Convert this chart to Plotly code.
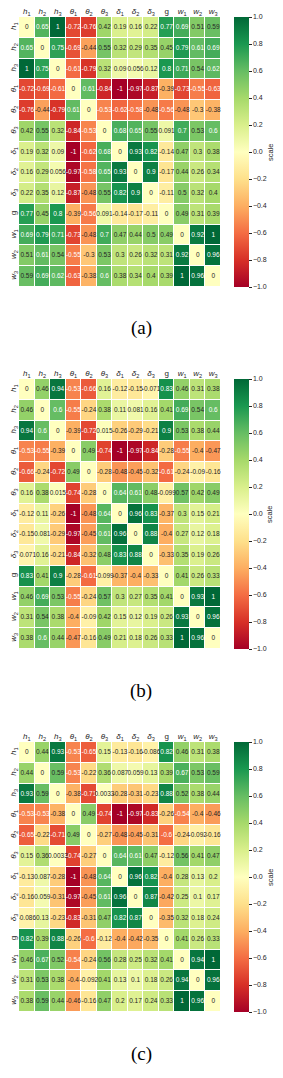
import plotly.graph_objects as go

labels = ["<i>h</i><sub>1</sub>", "<i>h</i><sub>2</sub>", "<i>h</i><sub>3</sub>",
          "<i>θ</i><sub>1</sub>", "<i>θ</i><sub>2</sub>", "<i>θ</i><sub>3</sub>",
          "<i>δ</i><sub>1</sub>", "<i>δ</i><sub>2</sub>", "<i>δ</i><sub>3</sub>",
          "g", "<i>w</i><sub>1</sub>", "<i>w</i><sub>2</sub>", "<i>w</i><sub>3</sub>"]

corr_a = [
    [0, 0.65, 1, -0.72, -0.76, 0.42, 0.19, 0.16, 0.22, 0.77, 0.69, 0.51, 0.59],
    [0.65, 0, 0.75, -0.69, -0.44, 0.55, 0.32, 0.29, 0.35, 0.45, 0.79, 0.61, 0.69],
    [1, 0.75, 0, -0.61, -0.79, 0.32, 0.09, 0.056, 0.12, 0.8, 0.71, 0.54, 0.62],
    [-0.72, -0.69, -0.61, 0, 0.61, -0.84, -1, -0.97, -0.87, -0.39, -0.73, -0.55, -0.63],
    [-0.76, -0.44, -0.79, 0.61, 0, -0.53, -0.62, -0.58, -0.48, -0.56, -0.48, -0.3, -0.38],
    [0.42, 0.55, 0.32, -0.84, -0.53, 0, 0.68, 0.65, 0.55, 0.091, 0.7, 0.53, 0.6],
    [0.19, 0.32, 0.09, -1, -0.62, 0.68, 0, 0.93, 0.82, -0.14, 0.47, 0.3, 0.38],
    [0.16, 0.29, 0.056, -0.97, -0.58, 0.65, 0.93, 0, 0.9, -0.17, 0.44, 0.26, 0.34],
    [0.22, 0.35, 0.12, -0.87, -0.48, 0.55, 0.82, 0.9, 0, -0.11, 0.5, 0.32, 0.4],
    [0.77, 0.45, 0.8, -0.39, -0.56, 0.091, -0.14, -0.17, -0.11, 0, 0.49, 0.31, 0.39],
    [0.69, 0.79, 0.71, -0.73, -0.48, 0.7, 0.47, 0.44, 0.5, 0.49, 0, 0.92, 1],
    [0.51, 0.61, 0.54, -0.55, -0.3, 0.53, 0.3, 0.26, 0.32, 0.31, 0.92, 0, 0.96],
    [0.59, 0.69, 0.62, -0.63, -0.38, 0.6, 0.38, 0.34, 0.4, 0.39, 1, 0.96, 0],
]

corr_b = [
    [0, 0.46, 0.94, -0.53, -0.66, 0.16, -0.12, -0.15, -0.071, 0.83, 0.46, 0.31, 0.38],
    [0.46, 0, 0.6, -0.55, -0.24, 0.38, 0.11, 0.081, 0.16, 0.41, 0.69, 0.54, 0.6],
    [0.94, 0.6, 0, -0.39, -0.72, 0.015, -0.26, -0.29, -0.21, 0.9, 0.53, 0.38, 0.44],
    [-0.53, -0.55, -0.39, 0, 0.49, -0.74, -1, -0.97, -0.84, -0.28, -0.55, -0.4, -0.47],
    [-0.66, -0.24, -0.72, 0.49, 0, -0.28, -0.48, -0.45, -0.32, -0.61, -0.24, -0.09, -0.16],
    [0.16, 0.38, 0.015, -0.74, -0.28, 0, 0.64, 0.61, 0.48, -0.099, 0.57, 0.42, 0.49],
    [-0.12, 0.11, -0.26, -1, -0.48, 0.64, 0, 0.96, 0.83, -0.37, 0.3, 0.15, 0.21],
    [-0.15, 0.081, -0.29, -0.97, -0.45, 0.61, 0.96, 0, 0.88, -0.4, 0.27, 0.12, 0.18],
    [-0.071, 0.16, -0.21, -0.84, -0.32, 0.48, 0.83, 0.88, 0, -0.33, 0.35, 0.19, 0.26],
    [0.83, 0.41, 0.9, -0.28, -0.61, -0.099, -0.37, -0.4, -0.33, 0, 0.41, 0.26, 0.33],
    [0.46, 0.69, 0.53, -0.55, -0.24, 0.57, 0.3, 0.27, 0.35, 0.41, 0, 0.93, 1],
    [0.31, 0.54, 0.38, -0.4, -0.09, 0.42, 0.15, 0.12, 0.19, 0.26, 0.93, 0, 0.96],
    [0.38, 0.6, 0.44, -0.47, -0.16, 0.49, 0.21, 0.18, 0.26, 0.33, 1, 0.96, 0],
]

corr_c = [
    [0, 0.44, 0.93, -0.53, -0.65, 0.15, -0.13, -0.16, -0.086, 0.82, 0.46, 0.31, 0.38],
    [0.44, 0, 0.59, -0.53, -0.22, 0.36, 0.087, 0.059, 0.13, 0.39, 0.67, 0.53, 0.59],
    [0.93, 0.59, 0, -0.38, -0.71, 0.0033, -0.28, -0.31, -0.23, 0.88, 0.52, 0.38, 0.44],
    [-0.53, -0.53, -0.38, 0, 0.49, -0.74, -1, -0.97, -0.83, -0.26, -0.54, -0.4, -0.46],
    [-0.65, -0.22, -0.71, 0.49, 0, -0.27, -0.48, -0.45, -0.31, -0.6, -0.24, -0.092, -0.16],
    [0.15, 0.36, 0.0033, -0.74, -0.27, 0, 0.64, 0.61, 0.47, -0.12, 0.56, 0.41, 0.47],
    [-0.13, 0.087, -0.28, -1, -0.48, 0.64, 0, 0.96, 0.82, -0.4, 0.28, 0.13, 0.2],
    [-0.16, 0.059, -0.31, -0.97, -0.45, 0.61, 0.96, 0, 0.87, -0.42, 0.25, 0.1, 0.17],
    [-0.086, 0.13, -0.23, -0.83, -0.31, 0.47, 0.82, 0.87, 0, -0.35, 0.32, 0.18, 0.24],
    [0.82, 0.39, 0.88, -0.26, -0.6, -0.12, -0.4, -0.42, -0.35, 0, 0.41, 0.26, 0.33],
    [0.46, 0.67, 0.52, -0.54, -0.24, 0.56, 0.28, 0.25, 0.32, 0.41, 0, 0.94, 1],
    [0.31, 0.53, 0.38, -0.4, -0.092, 0.41, 0.13, 0.1, 0.18, 0.26, 0.94, 0, 0.96],
    [0.38, 0.59, 0.44, -0.46, -0.16, 0.47, 0.2, 0.17, 0.24, 0.33, 1, 0.96, 0],
]

panel_labels = ["(a)", "(b)", "(c)"]
cbar_title = "scale"
cbar_ticks = [-1.0, -0.8, -0.6, -0.4, -0.2, 0.0, 0.2, 0.4, 0.6, 0.8, 1.0]

cmap_hex = ["#a50026", "#d73027", "#f46d43", "#fdae61", "#fee08b", "#ffffbf",
            "#d9ef8b", "#a6d96a", "#66bd63", "#1a9850", "#006837"]
colorscale = [[i / 10, c] for i, c in enumerate(cmap_hex)]


def hex2rgb(h):
    return [int(h[i:i + 2], 16) / 255 for i in (1, 3, 5)]


def cmap_color(v):
    t = (v + 1) / 2 * 10
    i = min(int(t), 9)
    f = t - i
    a, b = hex2rgb(cmap_hex[i]), hex2rgb(cmap_hex[i + 1])
    return [a[k] + (b[k] - a[k]) * f for k in range(3)]


def luminance(rgb):
    lin = [c / 12.92 if c <= 0.03928 else ((c + 0.055) / 1.055) ** 2.4 for c in rgb]
    return 0.2126 * lin[0] + 0.7152 * lin[1] + 0.0722 * lin[2]


# page body has an 8px default margin; the figure is sized to fit the window
OFF = 8
W, H = 283 - OFF, 1078 - OFF


def px(xp):
    return (xp - OFF) / W


def py(yp):
    return 1 - (yp - OFF) / H


x0, x1 = 19, 221
tops = [17, 379, 742]
hh = 270
cb_left = 234
label_y = [328, 691, 1054]
FONT = "Liberation Sans, Arial"

fig = go.Figure()
n = len(labels)
idx = list(range(n))
for p, (mat, lab) in enumerate(zip([corr_a, corr_b, corr_c], panel_labels)):
    s = "" if p == 0 else str(p + 1)
    top, bot = tops[p], tops[p] + hh
    ydom = [py(bot), py(top)]
    fig.add_trace(go.Heatmap(
        z=mat, x=idx, y=idx, coloraxis="coloraxis" + s,
        xgap=1, ygap=1, xaxis="x" + s, yaxis="y" + s, hoverinfo="skip"))
    xs, ys, txt, cols = [], [], [], []
    for i in range(n):
        for j in range(n):
            v = mat[i][j]
            xs.append(j)
            ys.append(i)
            txt.append(format(v, ".2g"))
            cols.append("#262626" if luminance(cmap_color(v)) > 0.408 else "#ffffff")
    fig.add_trace(go.Scatter(
        x=xs, y=ys, text=txt, mode="text", xaxis="x" + s, yaxis="y" + s,
        textfont=dict(size=6.5, color=cols, family=FONT),
        showlegend=False, hoverinfo="skip"))
    fig.layout["xaxis" + s] = dict(
        domain=[px(x0), px(x1)], anchor="y" + s, side="top", automargin=False,
        tickvals=idx, ticktext=labels, range=[-0.5, n - 0.5],
        showgrid=False, zeroline=False, showline=False, ticks="",
        tickfont=dict(size=8, color="#262626", family=FONT))
    fig.layout["yaxis" + s] = dict(
        domain=ydom, anchor="x" + s, autorange=False, range=[n - 0.5, -0.5],
        automargin=False,
        tickvals=idx, ticktext=labels, tickangle=-90,
        showgrid=False, zeroline=False, showline=False, ticks="",
        tickfont=dict(size=8, color="#262626", family=FONT))
    fig.layout["coloraxis" + s] = dict(
        colorscale=colorscale, cmin=-1, cmax=1,
        colorbar=dict(
            x=px(cb_left), xanchor="left", xref="paper", xpad=0, ypad=0,
            y=sum(ydom) / 2, yanchor="middle", len=hh / H, lenmode="fraction",
            thickness=15, outlinewidth=0,
            tickvals=cbar_ticks,
            ticktext=[("−" if t < 0 else "") + f"{abs(t):.1f}" for t in cbar_ticks],
            ticks="outside", ticklen=3, tickcolor="#262626",
            tickfont=dict(size=7, color="#262626", family=FONT)))
    fig.add_annotation(
        text=cbar_title, x=px(270), y=sum(ydom) / 2, xref="paper", yref="paper",
        showarrow=False, textangle=-90, xanchor="center", yanchor="middle",
        font=dict(size=7.5, color="#262626", family=FONT))
    fig.add_annotation(
        text=lab, x=px(141), y=py(label_y[p]), xref="paper", yref="paper",
        showarrow=False, xanchor="center", yanchor="middle",
        font=dict(size=19, color="#000000", family="Liberation Serif, Times New Roman"))

fig.update_layout(
    width=W, height=H, margin=dict(l=0, r=0, t=0, b=0),
    paper_bgcolor="white", plot_bgcolor="white", showlegend=False)

fig.write_html("out.html")
